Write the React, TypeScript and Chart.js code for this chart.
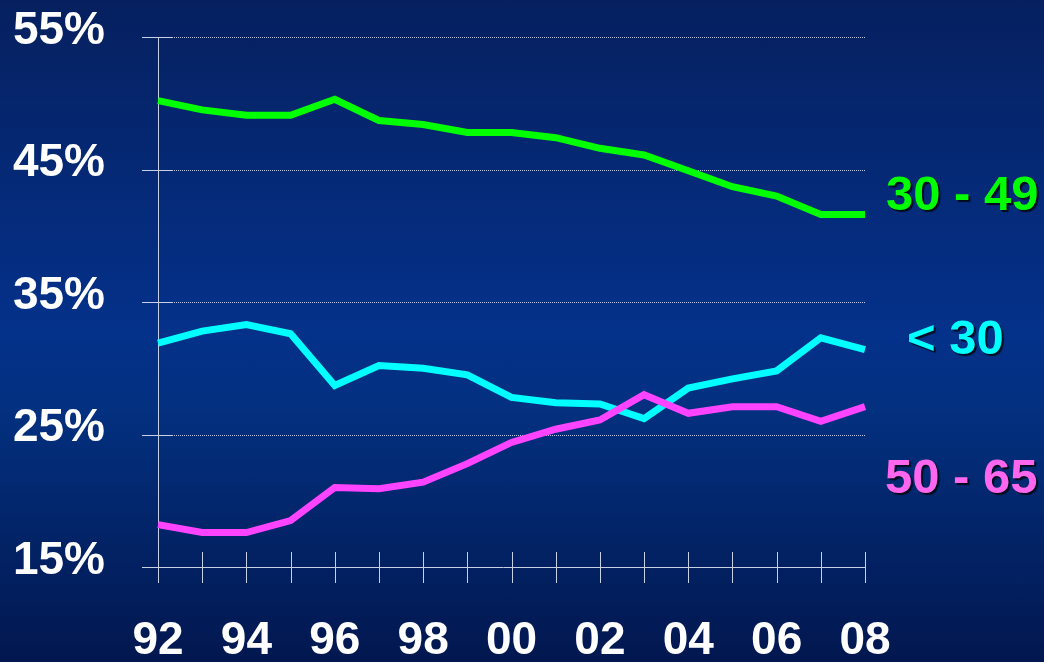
import React, { useEffect, useRef } from "react";
import { Chart, registerables } from "chart.js";

Chart.register(...registerables);

const years = ["92", "93", "94", "95", "96", "97", "98", "99", "00", "01", "02", "03", "04", "05", "06", "07", "08"];
const age30to49 = [50.2, 49.5, 49.1, 49.1, 50.3, 48.7, 48.4, 47.8, 47.8, 47.4, 46.6, 46.1, 44.9, 43.7, 43.0, 41.6, 41.6];
const under30 = [31.9, 32.8, 33.3, 32.6, 28.7, 30.2, 30.0, 29.5, 27.8, 27.4, 27.3, 26.2, 28.5, 29.2, 29.8, 32.3, 31.4];
const age50to65 = [18.2, 17.6, 17.6, 18.5, 21.0, 20.9, 21.4, 22.8, 24.4, 25.4, 26.1, 28.0, 26.6, 27.1, 27.1, 26.0, 27.1];
const yTicks = [15, 25, 35, 45, 55];
const seriesLabels = ["30 - 49", "< 30", "50 - 65"];

const FONT = "'Liberation Sans', Arial, sans-serif";

const axesPlugin = {
  id: "customAxes",
  beforeDatasetsDraw(chart: any) {
    const ctx = chart.ctx;
    const x = chart.scales.x;
    const y = chart.scales.y;
    const area = chart.chartArea;
    ctx.save();
    ctx.strokeStyle = "rgba(220,225,240,0.85)";
    ctx.lineWidth = 1;
    ctx.setLineDash([1, 1]);
    yTicks.forEach((v) => {
      if (v === 15) return;
      const py = Math.round(y.getPixelForValue(v)) + 0.5;
      ctx.beginPath();
      ctx.moveTo(area.left, py);
      ctx.lineTo(area.right, py);
      ctx.stroke();
    });
    ctx.setLineDash([]);
    ctx.strokeStyle = "#c8d0e4";
    const ax = Math.round(area.left) + 0.5;
    ctx.beginPath();
    ctx.moveTo(ax, area.top);
    ctx.lineTo(ax, area.bottom);
    ctx.stroke();
    yTicks.forEach((v) => {
      const py = Math.round(y.getPixelForValue(v)) + 0.5;
      ctx.beginPath();
      ctx.moveTo(area.left - 16, py);
      ctx.lineTo(area.left + 15, py);
      ctx.stroke();
    });
    const by = Math.round(area.bottom) + 0.5;
    ctx.beginPath();
    ctx.moveTo(area.left - 16, by);
    ctx.lineTo(area.right, by);
    ctx.stroke();
    years.forEach((_, i) => {
      const px = Math.round(x.getPixelForValue(i)) + 0.5;
      ctx.beginPath();
      ctx.moveTo(px, area.bottom - 15);
      ctx.lineTo(px, area.bottom + 16);
      ctx.stroke();
    });
    ctx.restore();
  },
  afterDraw(chart: any) {
    const ctx = chart.ctx;
    ctx.save();
    ctx.font = `bold 49px ${FONT}`;
    ctx.textAlign = "left";
    ctx.textBaseline = "alphabetic";
    ctx.shadowColor = "rgba(0,0,0,0.75)";
    ctx.shadowOffsetX = 2;
    ctx.shadowOffsetY = 2;
    ctx.shadowBlur = 1;
    const items = [
      { t: seriesLabels[0], c: "#00ff00", x: 886, y: 210 },
      { t: seriesLabels[1], c: "#00ffff", x: 907, y: 354 },
      { t: seriesLabels[2], c: "#ff66ee", x: 885, y: 493 },
    ];
    items.forEach((it) => {
      ctx.fillStyle = it.c;
      ctx.fillText(it.t, it.x, it.y);
    });
    ctx.restore();
  },
};

export default function App() {
  const ref = useRef<HTMLCanvasElement>(null);
  useEffect(() => {
    document.body.style.margin = "0";
    const chart = new Chart(ref.current!, {
      type: "line",
      data: {
        labels: years,
        datasets: [
          { label: seriesLabels[0], data: age30to49, borderColor: "#00ff00", borderWidth: 7, pointRadius: 0, tension: 0, order: 2, fill: false },
          { label: seriesLabels[1], data: under30, borderColor: "#00ffff", borderWidth: 7, pointRadius: 0, tension: 0, order: 1, fill: false },
          { label: seriesLabels[2], data: age50to65, borderColor: "#ff44ff", borderWidth: 7, pointRadius: 0, tension: 0, order: 0, fill: false },
        ],
      },
      options: {
        responsive: false,
        animation: false,
        layout: { padding: { top: 37, right: 179, left: 0, bottom: 0 } },
        plugins: { legend: { display: false }, tooltip: { enabled: false } },
        scales: {
          x: {
            offset: false,
            grid: { display: false, drawTicks: false },
            border: { display: false },
            ticks: {
              autoSkip: false,
              maxRotation: 0,
              minRotation: 0,
              padding: 47,
              color: "#ffffff",
              font: { family: FONT, size: 46, weight: "bold" },
              callback: (_v: any, i: number) => (i % 2 === 0 ? years[i] : ""),
            },
            afterFit: (s: any) => {
              s.height = 95;
              s.paddingLeft = 0;
              s.paddingRight = 0;
            },
          },
          y: {
            min: 15,
            max: 55,
            grid: { display: false, drawTicks: false },
            border: { display: false },
            ticks: {
              stepSize: 10,
              padding: 53,
              labelOffset: -6,
              color: "#ffffff",
              font: { family: FONT, size: 46, weight: "bold" },
              callback: (v: any) => `${v}%`,
            },
            afterFit: (s: any) => {
              s.width = 158;
              s.paddingTop = 0;
              s.paddingBottom = 0;
            },
          },
        },
      },
      plugins: [axesPlugin],
    } as any);
    return () => chart.destroy();
  }, []);
  return (
    <div
      style={{
        position: "fixed",
        left: 0,
        top: 0,
        width: 1044,
        height: 662,
        background: "linear-gradient(180deg, #06205f 0%, #04318a 50%, #03307f 62%, #02174f 100%)",
      }}
    >
      <canvas ref={ref} width={1044} height={662} style={{ display: "block" }} />
    </div>
  );
}
